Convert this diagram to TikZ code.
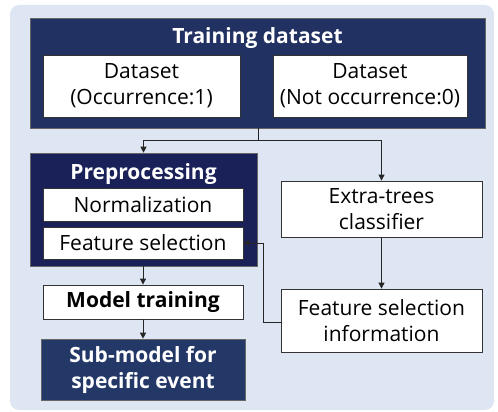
\documentclass[tikz,border=0pt]{standalone}
\usepackage{fontspec}
\setmainfont{Open Sans}
\usetikzlibrary{arrows.meta}
\definecolor{panelbg}{RGB}{221,230,242}
\definecolor{navy}{RGB}{33,49,98}
\definecolor{deepnavy}{RGB}{26,32,88}
\definecolor{subnavy}{RGB}{36,56,104}
\tikzset{
    wbox/.style={draw=black!80, fill=white, line width=0.8pt, align=center, inner sep=0pt},
    nbox/.style={fill=#1, draw=black!60, line width=0.6pt, inner sep=0pt},
    flow/.style={draw=black!85, line width=0.9pt, -{Triangle[length=6pt,width=6pt]}},
}
\newcommand{\txt}{\fontsize{21}{26}\selectfont}
\begin{document}
\begin{tikzpicture}[x=1pt,y=-1pt]
        \useasboundingbox (0,0) rectangle (498,412);
        % background panel
        \fill[panelbg, rounded corners=9pt] (10,5) rectangle (494,410);
        % training dataset
        \node[nbox=navy, minimum width=455pt, minimum height=110pt] (train) at (257.5,73) {};
        \node[text=white, font=\txt\bfseries] (traintitle) at (257.5,38) {Training dataset};
        \node[wbox, minimum width=197pt, minimum height=62pt, font=\txt] (occ) at (141.5,86) {Dataset\\(Occurrence:1)};
        \node[wbox, minimum width=194pt, minimum height=62pt, font=\txt] (notocc) at (370,86) {Dataset\\(Not occurrence:0)};
        % preprocessing
        \node[nbox=deepnavy, minimum width=227pt, minimum height=113pt] (prep) at (143.5,209.5) {};
        \node[text=white, font=\txt\bfseries] (preptitle) at (143.5,174) {Preprocessing};
        \node[wbox, minimum width=200pt, minimum height=33pt, font=\txt] (norm) at (143,204.5) {Normalization};
        \node[wbox, minimum width=200pt, minimum height=32pt, font=\txt] (fsel) at (143,243) {Feature selection};
        % right branch
        \node[wbox, minimum width=201pt, minimum height=56pt, font=\txt] (etc) at (381.5,209) {Extra-trees\\classifier};
        \node[wbox, minimum width=201pt, minimum height=63pt, font=\txt] (fsinfo) at (381.5,320.5) {Feature selection\\information};
        % model
        \node[wbox, minimum width=200pt, minimum height=34pt, font=\txt\bfseries] (train2) at (143,302) {Model training};
        \node[nbox=subnavy, minimum width=204pt, minimum height=61pt, text=white, align=center, font=\txt\bfseries] (sub) at (143,369.5) {Sub-model for\\specific event};
        % connectors
        \coordinate (split) at (258,140);
        \draw[line width=0.9pt, draw=black!85] (train.south -| split) -- (split);
        \draw[flow] (split) -| (prep.north);
        \draw[flow] (split) -| (etc.north);
        \draw[flow] (etc.south) -- (fsinfo.north);
        \draw[flow] (fsinfo.west |- 0,322) -- (263,322) |- (fsel.east);
        \draw[flow] (prep.south -| train2.north) -- (train2.north);
        \draw[flow] (train2.south) -- (sub.north);
\end{tikzpicture}
\end{document}
